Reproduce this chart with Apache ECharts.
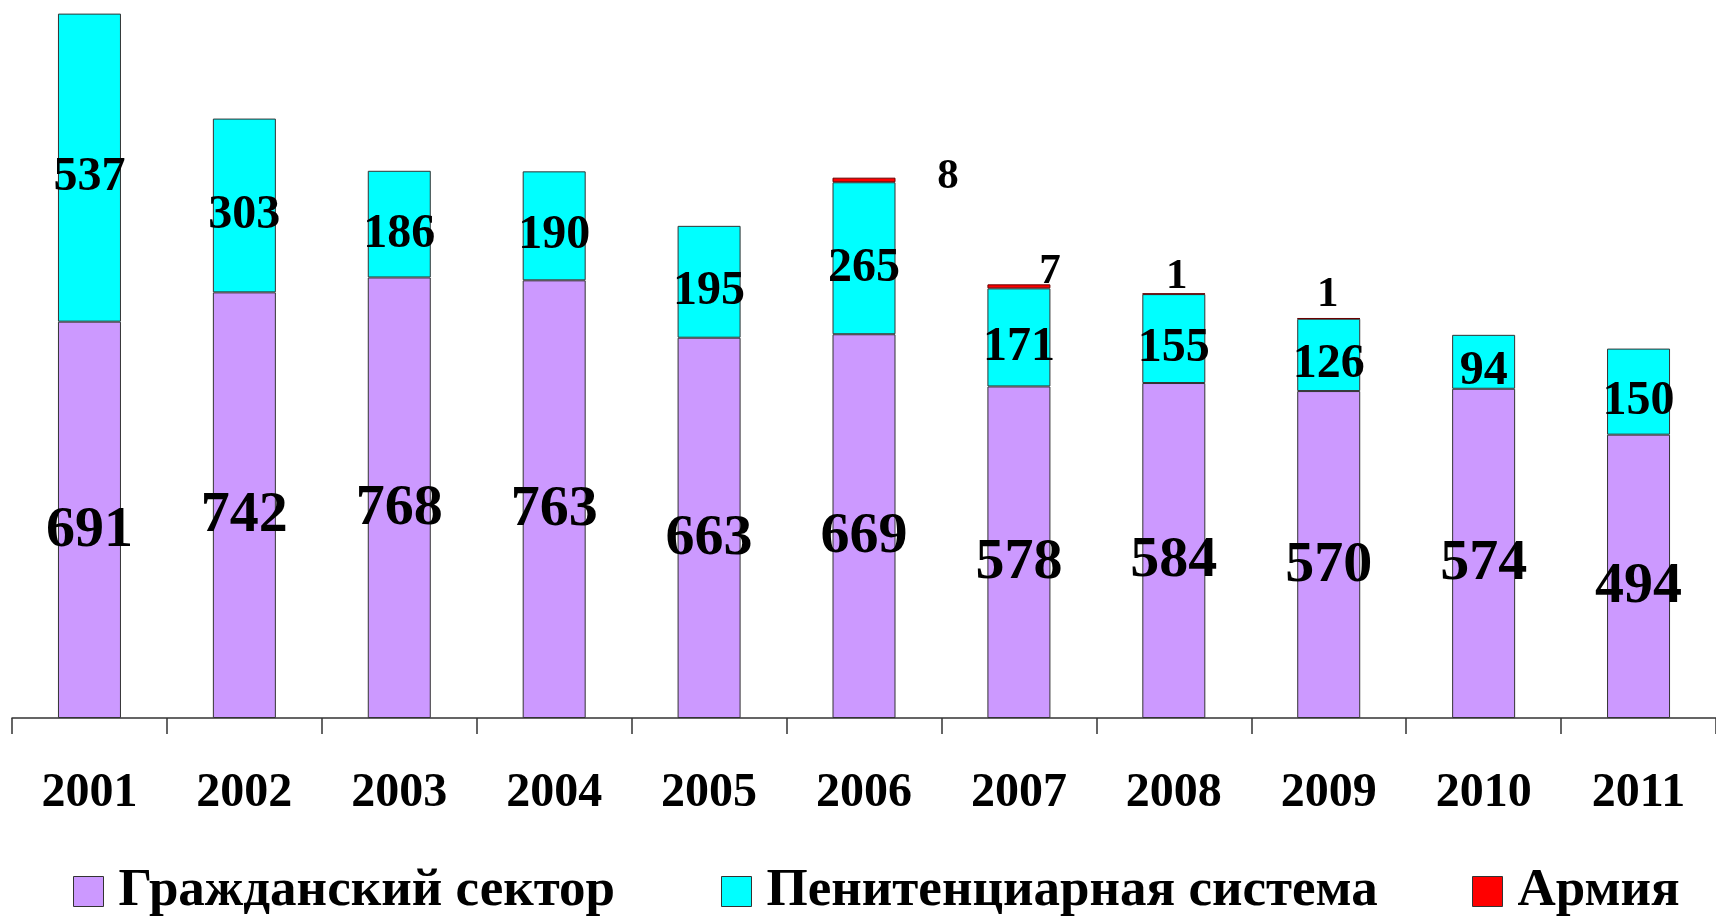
<!DOCTYPE html>
<html>
<head>
<meta charset="utf-8">
<script src="https://cdn.jsdelivr.net/npm/echarts@6/dist/echarts.min.js"></script>
<style>
html,body{margin:0;padding:0;background:#fff;}
#chart{width:1716px;height:916px;}
</style>
</head>
<body>
<div id="chart"></div>
<script>
const years = ['2001','2002','2003','2004','2005','2006','2007','2008','2009','2010','2011'];
const civilValues = [691, 742, 768, 763, 663, 669, 578, 584, 570, 574, 494];
const penalValues = [537, 303, 186, 190, 195, 265, 171, 155, 126, 94, 150];
const armyValues  = [null, null, null, null, null, 8, 7, 1, 1, null, null];
const seriesNames = ['Гражданский сектор', 'Пенитенциарная система', 'Армия'];

const FONT = '"Liberation Serif", "Times New Roman", serif';
const armyLabelOffsets = {5: [84, 21], 6: [31, 9], 7: [3, 5], 8: [-1, -2]};

const chart = echarts.init(document.getElementById('chart'));

const armyData = armyValues.map((v, i) => {
  if (v === null) return null;
  const off = armyLabelOffsets[i] || [0, 0];
  return {value: v, label: {offset: off}};
});

const legendBase = {
  orient: 'horizontal',
  itemWidth: 30,
  itemHeight: 30,
  icon: 'rect',
  selectedMode: false,
  top: 860,
  itemStyle: {borderColor: '#333', borderWidth: 1},
  textStyle: {fontFamily: FONT, fontWeight: 'bold', fontSize: 53, color: '#000', padding: [0, 0, 0, 10]}
};

chart.setOption({
  animation: false,
  backgroundColor: '#fff',
  grid: {left: 12, top: 1, width: 1710, height: 717, containLabel: false},
  legend: [
    Object.assign({}, legendBase, {left: 68, data: [seriesNames[0]]}),
    Object.assign({}, legendBase, {left: 716, data: [seriesNames[1]]}),
    Object.assign({}, legendBase, {left: 1467, data: [seriesNames[2]]})
  ],
  xAxis: {
    type: 'category',
    data: years,
    axisLine: {lineStyle: {color: '#333', width: 1.5}},
    axisTick: {show: true, length: 16, lineStyle: {color: '#333', width: 1.5}},
    axisLabel: {margin: 52, fontFamily: FONT, fontWeight: 'bold', fontSize: 48, color: '#000'}
  },
  yAxis: {
    type: 'value',
    min: 0,
    max: 1250,
    show: false,
    splitLine: {show: false}
  },
  series: [
    {
      name: seriesNames[0],
      type: 'bar',
      stack: 'total',
      barWidth: 63,
      data: civilValues,
      itemStyle: {color: '#CC99FF', borderColor: '#333', borderWidth: 1},
      label: {show: true, position: 'inside', offset: [0, 11], fontFamily: FONT, fontWeight: 'bold', fontSize: 58, color: '#000'}
    },
    {
      name: seriesNames[1],
      type: 'bar',
      stack: 'total',
      barWidth: 63,
      data: penalValues,
      itemStyle: {color: '#00FFFF', borderColor: '#333', borderWidth: 1},
      label: {show: true, position: 'inside', offset: [0, 10], fontFamily: FONT, fontWeight: 'bold', fontSize: 48, color: '#000'}
    },
    {
      name: seriesNames[2],
      type: 'bar',
      stack: 'total',
      barWidth: 63,
      data: armyData,
      itemStyle: {color: '#FF0000', borderColor: '#6a0000', borderWidth: 1},
      label: {show: true, position: 'top', distance: 0, fontFamily: FONT, fontWeight: 'bold', fontSize: 43, color: '#000'}
    }
  ]
});
</script>
</body>
</html>
